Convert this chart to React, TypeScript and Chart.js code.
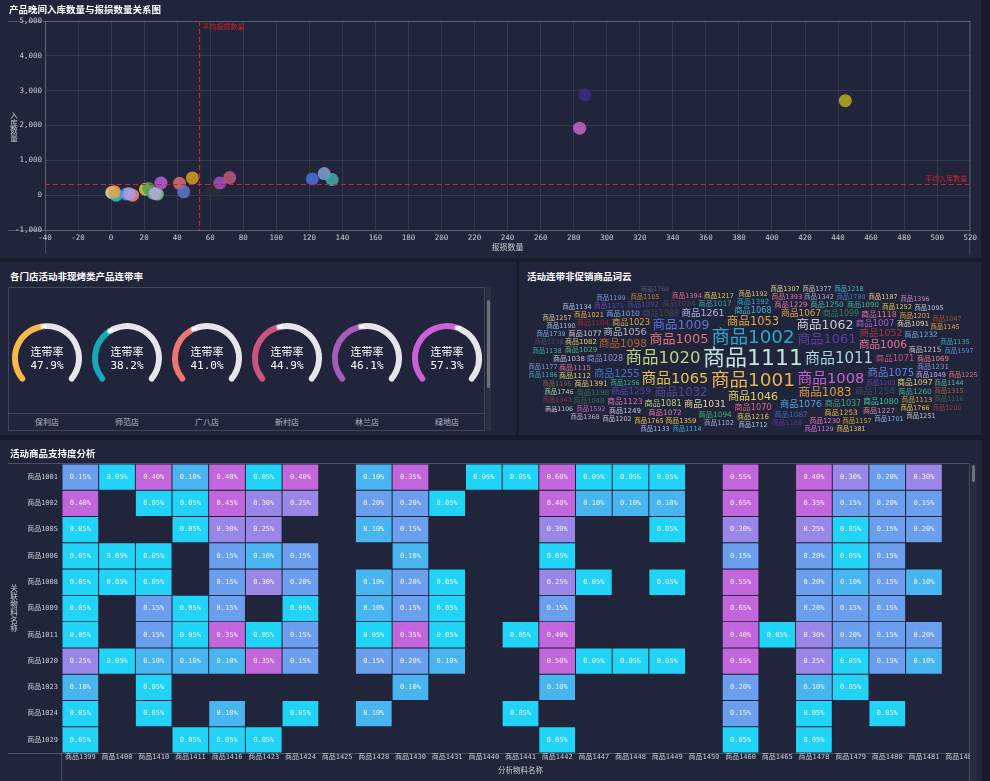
import React, { useEffect, useRef } from 'react';
import { Chart, registerables } from 'chart.js';

Chart.register(...registerables);

const MONO = '"DejaVu Sans Mono", "Noto Sans CJK SC", monospace';
const SANS = '"Noto Sans CJK SC", "Noto Sans", sans-serif';
const WC_FONT = '"DejaVu Sans", "Noto Sans CJK SC", sans-serif';
const PAGE_BG = '#181b2b';
const PANEL_BG = '#21253b';
const TICK = '#c8cad4';
const GRID = 'rgba(255,255,255,0.09)';
const FRAME = 'rgba(255,255,255,0.2)';
const RED = '#d4222b';

// ---------- scatter ----------
const SCATTER_TITLE = '产品晚间入库数量与报损数量关系图';
const SC_X_TITLE = '报损数量';
const SC_Y_TITLE = '入库数量';
const SC_LOSS = [0.4, 3, 2, 9.4, 13, 11, 20.8, 22.8, 25.2, 28, 26.6, 30.2, 41.4, 44, 49.2, 61.8, 65.8, 71.8, 121.8, 129, 133.8, 286.8, 283.6, 444.4];
const SC_STOCK = [77, 0, 100, 30, 0, 40, 170, 190, 60, 30, 50, 350, 340, 95, 495, 130, 350, 505, 466, 620, 448, 2886, 1923, 2714];
const SC_COLORS = [
  'rgba(238,224,170,0.85)', 'rgba(46,199,201,0.85)', 'rgba(229,162,74,0.85)', 'rgba(91,143,249,0.85)',
  'rgba(240,138,122,0.85)', 'rgba(168,159,232,0.85)', 'rgba(232,197,71,0.85)', 'rgba(73,168,76,0.85)',
  'rgba(58,162,122,0.85)', 'rgba(111,207,151,0.85)', 'rgba(185,165,216,0.85)', 'rgba(180,96,216,0.85)',
  'rgba(224,108,108,0.85)', 'rgba(90,120,200,0.85)', 'rgba(212,160,32,0.85)', 'rgba(43,47,58,0.85)',
  'rgba(160,80,192,0.85)', 'rgba(192,88,126,0.85)', 'rgba(74,111,216,0.85)', 'rgba(138,160,208,0.85)',
  'rgba(63,176,173,0.85)', 'rgba(58,45,138,0.85)', 'rgba(200,100,200,0.85)', 'rgba(181,173,30,0.85)',
];
const AVG_LOSS = 53.5;
const AVG_STOCK = 330;
const AVG_LOSS_LABEL = '平均报损数量';
const AVG_STOCK_LABEL = '平均入库数量';

// ---------- gauges ----------
const GAUGE_TITLE = '各门店活动非现烤类产品连带率';
const GAUGE_LABEL = '连带率';
const STORES = ['保利店', '师范店', '广八店', '新村店', '林兰店', '绿地店'];
const RATES = [47.9, 38.2, 41.0, 44.9, 46.1, 57.3];
const GAUGE_COLORS = ['#f6b94a', '#16a9b9', '#ec7670', '#c9547f', '#a65cba', '#cc60d8'];
const TRACK = '#e6e6ea';

// ---------- word cloud ----------
const CLOUD_TITLE = '活动连带非促销商品词云';
const WC_WORDS = [
  '商品1111', '商品1001', '商品1002', '商品1020', '商品1011', '商品1065', '商品1008', '商品1005', '商品1061', '商品1009',
  '商品1062', '商品1032', '商品1083', '商品1053', '商品1046', '商品1006', '商品1098', '商品1075', '商品1255', '商品1052',
  '商品1056', '商品1261', '商品1031', '商品1076', '商品1067', '商品1259', '商品1254', '商品1071', '商品1007', '商品1023',
  '商品1037', '商品1068', '商品1070', '商品1081', '商品1028', '商品1099', '商品1088', '商品1123', '商品1080', '商品1118',
  '商品1097', '商品1229', '商品1391', '商品1010', '商品1017', '商品1029', '商品1094', '商品1087', '商品1250', '商品1072',
  '商品1253', '商品1232', '商品1082', '商品1113', '商品1216', '商品1024', '商品1215', '商品1077', '商品1049', '商品1256',
  '商品1048', '商品1091', '商品1104', '商品1115', '商品1112', '商品1198', '商品1201', '商品1393', '商品1260', '商品1227',
  '商品1069', '商品1231', '商品1092', '商品1392', '商品1359', '商品1230', '商品1021', '商品1090', '商品1249', '商品1038',
  '商品1252', '商品1342', '商品1217', '商品1102', '商品1108', '商品1371', '商品1106', '商品1203', '商品1394', '商品1766',
  '商品1765', '商品1768', '商品1157', '商品1592', '商品1780', '商品1192', '商品1712', '商品1144', '商品1195', '商品1145',
  '商品1105', '商品1190', '商品1746', '商品1135', '商品1202', '商品1701', '商品1315', '商品1136', '商品1739', '商品1138',
  '商品1597', '商品1187', '商品1047', '商品1116', '商品1095', '商品1177', '商品1199', '商品1186', '商品1225', '商品1343',
  '商品1134', '商品1257', '商品1114', '商品1129', '商品1251', '商品1307', '商品1377', '商品1368', '商品1133', '商品1381',
  '商品1396', '商品1200', '商品1218',
];
const WC_SIZES = [
  22, 18.5, 18.3, 16.5, 15, 14.7, 14.7, 13, 13, 12.5,
  12.5, 11.7, 11.7, 11.4, 11, 10.6, 10.6, 10.3, 10, 9.5,
  9.5, 9.5, 9.2, 9.2, 8.8, 8.8, 8.8, 8.5, 8.5, 8.4,
  8, 8.2, 8.2, 8.2, 8, 8, 8, 7.8, 7.8, 7.8,
  7.8, 7.4, 7.4, 7.4, 7.4, 7.2, 7.4, 7.4, 7.4, 7.4,
  7.4, 7.4, 7, 6.8, 7, 7.4, 7.2, 7.4, 6.6, 6.4,
  6.8, 7, 7, 7, 7, 7.2, 6.8, 6.8, 7.4, 7,
  7, 7, 7, 7.2, 6.8, 6.8, 6.6, 7, 7, 7,
  6.6, 6.6, 6.6, 6.6, 6.6, 6.6, 6.2, 6.4, 6.6, 6.4,
  6.4, 6.2, 6.4, 6.4, 6.4, 6.4, 6.4, 6.4, 6.4, 6.4,
  6.4, 6.4, 6.4, 6.4, 6.4, 6.4, 6.4, 6.4, 6.4, 6.4,
  6.4, 6.4, 6.4, 6.4, 6.4, 6.4, 6.4, 6.4, 6.4, 6.4,
  6.4, 6.4, 6.4, 6.4, 6.4, 6.4, 6.4, 6.4, 6.4, 6.4,
  6.4, 6.4, 6.4,
];
const WC_COLORS = [
  '#c3e6dc', '#e8b54c', '#2aa9cf', '#b9d47e', '#a9d6e2', '#e6c452', '#c563d2', '#e2727a', '#5b3ea6', '#5a74e0',
  '#c9cad9', '#54449e', '#d9a343', '#e3ab45', '#e3d264', '#e47592', '#b4632f', '#6384e2', '#4a74c4', '#a83345',
  '#b5b6c6', '#b3b4e2', '#e3d3a1', '#54a2e2', '#d6a444', '#54449e', '#45465a', '#c45486', '#a463c4', '#d5a443',
  '#43a474', '#44b3c4', '#e26484', '#b3d284', '#8494d4', '#33845a', '#45465a', '#d474b4', '#44c494', '#e474a4',
  '#e4d474', '#e474a4', '#e4c464', '#84a4e4', '#44a4a4', '#54b484', '#44b474', '#4464c4', '#44b4a4', '#e474b4',
  '#e4b444', '#74a4e4', '#e4c464', '#d4a444', '#e4c454', '#45465a', '#c4c4c4', '#c4c4d4', '#c4a4e4', '#44b494',
  '#33664f', '#e4d4b4', '#a42434', '#e47494', '#e4d464', '#337454', '#e4a444', '#e47494', '#44b494', '#e48494',
  '#e48484', '#8494d4', '#54449e', '#34a4c4', '#e4c444', '#e474c4', '#e4b444', '#44b494', '#c4c4e4', '#c4c4d4',
  '#e4c444', '#a4a4c4', '#e4c454', '#a4a4d4', '#54349e', '#6444b4', '#c4c4d4', '#6444a4', '#e46494', '#e4c444',
  '#e4c444', '#55566a', '#d4a434', '#c464c4', '#5474c4', '#e4c464', '#a4c4e4', '#64b494', '#846444', '#e4a444',
  '#c48434', '#a4c4e4', '#a4d4a4', '#44a4c4', '#c4c4d4', '#84b4e4', '#a46434', '#45465a', '#84a4d4', '#44a4a4',
  '#6484e4', '#e4c484', '#a45424', '#33664f', '#c4c4d4', '#8494c4', '#8494e4', '#44a4b4', '#e47484', '#943444',
  '#a4c4e4', '#e4c484', '#44a4c4', '#d474d4', '#c4c4c4', '#e4d494', '#c4c4c4', '#b4b4c4', '#a4b4e4', '#e4c454',
  '#c484c4', '#a43444', '#44b4c4',
];

// ---------- heatmap ----------
const HEAT_TITLE = '活动商品支持度分析';
const HM_X_TITLE = '分析物料名称';
const HM_Y_TITLE = '关联物料名称';
const HM_COLS = [
  '商品1399', '商品1408', '商品1410', '商品1411', '商品1416', '商品1423', '商品1424', '商品1425', '商品1428', '商品1430',
  '商品1431', '商品1440', '商品1441', '商品1442', '商品1447', '商品1448', '商品1449', '商品1459', '商品1460', '商品1465',
  '商品1478', '商品1479', '商品1480', '商品1481', '商品1482',
];
const HM_ROWS = ['商品1001', '商品1002', '商品1005', '商品1006', '商品1008', '商品1009', '商品1011', '商品1020', '商品1023', '商品1024', '商品1029'];
const _ = null;
const R1001 = [0.15, 0.05, 0.40, 0.10, 0.40, 0.05, 0.40, _, 0.10, 0.35, _, 0.05, 0.05, 0.60, 0.05, 0.05, 0.05, _, 0.55, _, 0.40, 0.30, 0.20, 0.30, _];
const R1002 = [0.40, _, 0.05, 0.05, 0.45, 0.30, 0.25, _, 0.20, 0.20, 0.05, _, _, 0.40, 0.10, 0.10, 0.10, _, 0.65, _, 0.35, 0.15, 0.20, 0.15, _];
const R1005 = [0.05, _, _, 0.05, 0.30, 0.25, _, _, 0.10, 0.15, _, _, _, 0.30, _, _, 0.05, _, 0.30, _, 0.25, 0.05, 0.15, 0.20, _];
const R1006 = [0.05, 0.05, 0.05, _, 0.15, 0.10, 0.15, _, _, 0.10, _, _, _, 0.05, _, _, _, _, 0.15, _, 0.20, 0.05, 0.15, _, _];
const R1008 = [0.05, 0.05, 0.05, _, 0.15, 0.30, 0.20, _, 0.10, 0.20, 0.05, _, _, 0.25, 0.05, _, 0.05, _, 0.55, _, 0.20, 0.10, 0.15, 0.10, _];
const R1009 = [0.05, _, 0.15, 0.05, 0.15, _, 0.05, _, 0.10, 0.15, 0.05, _, _, 0.15, _, _, _, _, 0.65, _, 0.20, 0.15, 0.15, _, _];
const R1011 = [0.05, _, 0.15, 0.05, 0.35, 0.05, 0.15, _, 0.05, 0.35, 0.05, _, 0.05, 0.40, _, _, _, _, 0.40, 0.05, 0.30, 0.20, 0.15, 0.20, _];
const R1020 = [0.25, 0.05, 0.10, 0.10, 0.10, 0.35, 0.15, _, 0.15, 0.20, 0.10, _, _, 0.50, 0.05, 0.05, 0.05, _, 0.55, _, 0.25, 0.05, 0.15, 0.10, _];
const R1023 = [0.10, _, 0.05, _, _, _, _, _, _, 0.10, _, _, _, 0.10, _, _, _, _, 0.20, _, 0.10, 0.05, _, _, _];
const R1024 = [0.05, _, 0.05, _, 0.10, _, 0.05, _, 0.10, _, _, _, 0.05, _, _, _, _, _, 0.15, _, 0.05, _, 0.05, _, _];
const R1029 = [0.05, _, _, 0.05, 0.05, 0.05, _, _, _, _, _, _, _, 0.05, _, _, _, _, 0.05, _, 0.05, _, _, _, _];
const HM_VALUES: (number | null)[][] = [R1001, R1002, R1005, R1006, R1008, R1009, R1011, R1020, R1023, R1024, R1029];
const HM_STEPS = [0.05, 0.10, 0.20, 0.30, 1];
const HM_PALETTE = ['#22d3f8', '#48b4f0', '#6c9eee', '#9a86e6', '#c266dc'];

function heatColor(v: number | null) {
  if (v == null) return 'rgba(0,0,0,0)';
  for (let k = 0; k < HM_STEPS.length; k++) if (v <= HM_STEPS[k] + 1e-9) return HM_PALETTE[k];
  return HM_PALETTE[HM_PALETTE.length - 1];
}

function stackedText(ctx: any, text: string, x: number, cy: number, size: number, step: number) {
  const chars = Array.from(text);
  const start = cy - ((chars.length - 1) * step) / 2;
  ctx.font = `${size}px ${SANS}`;
  ctx.textAlign = 'center';
  ctx.textBaseline = 'middle';
  ctx.fillStyle = TICK;
  chars.forEach((c, i) => ctx.fillText(c, x, start + i * step));
}

const NO_UI = { legend: { display: false }, tooltip: { enabled: false } };

// ---------- plugins ----------
const scatterDecor = {
  id: 'scatterDecor',
  afterDatasetsDraw(chart: any) {
    const { ctx, chartArea: a, scales } = chart;
    const x = scales.x, y = scales.y;
    ctx.save();
    ctx.strokeStyle = FRAME;
    ctx.lineWidth = 1;
    ctx.beginPath();
    ctx.moveTo(8, a.top + 0.5); ctx.lineTo(a.right, a.top + 0.5);
    ctx.moveTo(8, a.bottom + 0.5); ctx.lineTo(a.right, a.bottom + 0.5);
    ctx.moveTo(a.left + 0.5, a.top); ctx.lineTo(a.left + 0.5, 253);
    ctx.moveTo(a.right - 0.5, a.top); ctx.lineTo(a.right - 0.5, 253);
    ctx.stroke();
    const px = Math.round(x.getPixelForValue(AVG_LOSS)) + 0.5;
    const py = Math.round(y.getPixelForValue(AVG_STOCK)) + 0.5;
    ctx.strokeStyle = RED;
    ctx.lineWidth = 1.2;
    ctx.setLineDash([5, 3]);
    ctx.beginPath();
    ctx.moveTo(px, a.top); ctx.lineTo(px, a.bottom);
    ctx.moveTo(a.left, py); ctx.lineTo(a.right, py);
    ctx.stroke();
    ctx.setLineDash([]);
    ctx.fillStyle = RED;
    ctx.font = `7px ${SANS}`;
    ctx.textBaseline = 'middle';
    ctx.textAlign = 'left';
    ctx.fillText(AVG_LOSS_LABEL, px + 3, a.top + 5);
    ctx.textAlign = 'right';
    ctx.fillText(AVG_STOCK_LABEL, a.right - 3, py - 6);
    stackedText(ctx, SC_Y_TITLE, 14, (a.top + a.bottom) / 2 + 1, 7.5, 7.6);
    ctx.restore();
  },
};

function gaugeDecor(i: number) {
  return {
    id: 'gaugeDecor',
    afterDraw(chart: any) {
      const arc = chart.getDatasetMeta(0).data[0];
      if (!arc) return;
      const { x, y, endAngle, innerRadius, outerRadius } = arc;
      const { ctx } = chart;
      ctx.save();
      const mr = (innerRadius + outerRadius) / 2;
      const dx = x + mr * Math.cos(endAngle);
      const dy = y + mr * Math.sin(endAngle);
      ctx.beginPath(); ctx.arc(dx, dy, 3.3, 0, Math.PI * 2); ctx.fillStyle = 'rgba(255,255,255,0.5)'; ctx.fill();
      ctx.beginPath(); ctx.arc(dx, dy, 2.1, 0, Math.PI * 2); ctx.fillStyle = '#ffffff'; ctx.fill();
      ctx.fillStyle = '#ffffff';
      ctx.textAlign = 'center';
      ctx.textBaseline = 'middle';
      ctx.font = `11px ${SANS}`;
      ctx.fillText(GAUGE_LABEL, x, y - 6.6);
      ctx.font = `11px ${MONO}`;
      ctx.fillText(`${RATES[i].toFixed(1)}%`, x, y + 7.7);
      ctx.restore();
    },
  };
}

const cloudPlugin = {
  id: 'cloud',
  afterDraw(chart: any) {
    const { ctx, chartArea: a } = chart;
    const W = a.right - a.left, H = a.bottom - a.top;
    const cx = a.left + W / 2, cy = a.top + H / 2;
    const asp = W / H;
    const cands: number[][] = [];
    for (let yy = 0; yy <= H; yy += 1) {
      for (let xx = 0; xx <= W; xx += 2) {
        const dx = Math.abs((a.left + xx - cx) / asp);
        const dy = Math.abs(a.top + yy - cy);
        cands.push([a.left + xx, a.top + yy, dx * dx * dx + dy * dy * dy]);
      }
    }
    cands.sort((p, q) => p[2] - q[2]);
    const order = WC_WORDS.map((_w, i) => i).sort((i, j) => WC_SIZES[j] - WC_SIZES[i]);
    const boxes: number[][] = [];
    ctx.save();
    ctx.textAlign = 'center';
    ctx.textBaseline = 'middle';
    for (const i of order) {
      const s = WC_SIZES[i];
      ctx.font = `${s}px ${WC_FONT}`;
      const w = ctx.measureText(WC_WORDS[i]).width + 1.5;
      const h = s + 0.8;
      let hit = -1;
      for (let c = 0; c < cands.length; c++) {
        const px = cands[c][0], py = cands[c][1];
        const x0 = px - w / 2, y0 = py - h / 2, x1 = px + w / 2, y1 = py + h / 2;
        if (x0 < a.left || x1 > a.right || y0 < a.top || y1 > a.bottom) continue;
        if (hit >= 0) {
          const b = boxes[hit];
          if (x0 < b[2] && x1 > b[0] && y0 < b[3] && y1 > b[1]) continue;
        }
        let ok = true;
        for (let k = 0; k < boxes.length; k++) {
          const b = boxes[k];
          if (x0 < b[2] && x1 > b[0] && y0 < b[3] && y1 > b[1]) { ok = false; hit = k; break; }
        }
        if (!ok) continue;
        boxes.push([x0, y0, x1, y1]);
        ctx.fillStyle = WC_COLORS[i];
        ctx.fillText(WC_WORDS[i], px, py);
        break;
      }
    }
    ctx.restore();
  },
};

const heatDecor = {
  id: 'heatDecor',
  afterDatasetsDraw(chart: any) {
    const { ctx, chartArea: a } = chart;
    ctx.save();
    ctx.font = `7px ${MONO}`;
    ctx.textAlign = 'center';
    ctx.textBaseline = 'middle';
    ctx.fillStyle = 'rgba(255,255,255,0.88)';
    HM_VALUES.forEach((row, r) => {
      const meta = chart.getDatasetMeta(r);
      row.forEach((v, c) => {
        if (v == null) return;
        const el = meta.data[c];
        if (!el) return;
        ctx.fillText(`${v.toFixed(2)}%`, el.x, (el.y + el.base) / 2);
      });
    });
    ctx.strokeStyle = FRAME;
    ctx.lineWidth = 1;
    ctx.beginPath();
    ctx.moveTo(8, a.top - 0.5); ctx.lineTo(970, a.top - 0.5);
    ctx.moveTo(8, a.bottom + 0.5); ctx.lineTo(970, a.bottom + 0.5);
    ctx.moveTo(a.left - 0.5, a.bottom); ctx.lineTo(a.left - 0.5, chart.height);
    ctx.moveTo(969.5, a.top); ctx.lineTo(969.5, chart.height);
    ctx.stroke();
    stackedText(ctx, HM_Y_TITLE, 14, (a.top + a.bottom) / 2, 7.5, 8);
    ctx.restore();
  },
};

// ---------- configs ----------
function scatterConfig() {
  return {
    type: 'scatter',
    data: {
      datasets: [{
        data: SC_LOSS.map((x, i) => ({ x, y: SC_STOCK[i] })),
        backgroundColor: SC_COLORS,
        borderWidth: 0,
        pointRadius: 6.5,
        pointHoverRadius: 6.5,
      }],
    },
    options: {
      responsive: true, maintainAspectRatio: false, animation: false, events: [],
      layout: { padding: { left: 0, top: 21, right: 4, bottom: 0 } },
      plugins: NO_UI,
      scales: {
        x: {
          type: 'linear', min: -40, max: 520,
          afterFit: (s: any) => { s.height = 28; },
          ticks: { stepSize: 20, color: TICK, font: { family: MONO, size: 7.5 }, padding: 4, maxRotation: 0, autoSkip: false },
          grid: { color: GRID, drawTicks: false },
          border: { display: false },
          title: { display: true, text: SC_X_TITLE, color: TICK, font: { family: SANS, size: 8 }, padding: { top: 0, bottom: 6 } },
        },
        y: {
          type: 'linear', min: -1000, max: 5000,
          afterFit: (s: any) => { s.width = 45; },
          ticks: { stepSize: 1000, color: TICK, font: { family: MONO, size: 7.5 }, padding: 3, callback: (v: any) => Number(v).toLocaleString('en-US') },
          grid: { color: GRID, drawTicks: false },
          border: { display: false },
        },
      },
    },
    plugins: [scatterDecor],
  };
}

function gaugeConfig(i: number) {
  return {
    type: 'doughnut',
    data: {
      datasets: [{
        data: [RATES[i], 100 - RATES[i]],
        backgroundColor: [GAUGE_COLORS[i], TRACK],
        borderWidth: 0,
        borderRadius: 3,
      }],
    },
    options: {
      responsive: true, maintainAspectRatio: false, animation: false, events: [],
      rotation: -135, circumference: 270, cutout: '83%',
      layout: { padding: 5 },
      plugins: NO_UI,
    },
    plugins: [gaugeDecor(i)],
  };
}

function cloudConfig() {
  return {
    type: 'scatter',
    data: { datasets: [] },
    options: {
      responsive: true, maintainAspectRatio: false, animation: false, events: [],
      layout: { padding: 0 },
      plugins: NO_UI,
      scales: { x: { display: false }, y: { display: false } },
    },
    plugins: [cloudPlugin],
  };
}

function heatConfig() {
  return {
    type: 'bar',
    data: {
      labels: HM_COLS,
      datasets: HM_ROWS.map((name, r) => ({
        label: name,
        data: HM_VALUES[r].map((v) => (v == null ? null : [r - 0.5, r + 0.5])),
        backgroundColor: HM_VALUES[r].map((v) => heatColor(v)),
        borderColor: 'rgba(24,32,56,0.75)',
        borderWidth: 0.8,
        borderSkipped: false,
        grouped: false,
        categoryPercentage: 1,
        barPercentage: 1,
      })),
    },
    options: {
      responsive: true, maintainAspectRatio: false, animation: false, events: [],
      layout: { padding: { left: 0, top: 24, right: 11, bottom: 0 } },
      plugins: NO_UI,
      scales: {
        x: {
          type: 'category',
          afterFit: (s: any) => { s.height = 28; },
          grid: { display: false, drawTicks: false },
          border: { display: false },
          ticks: { color: TICK, font: { family: MONO, size: 7 }, padding: 0, maxRotation: 0, minRotation: 0, autoSkip: false },
          title: { display: true, text: HM_X_TITLE, color: TICK, font: { family: SANS, size: 7.5 }, padding: { top: 0, bottom: 6 } },
        },
        y: {
          type: 'linear', min: -0.5, max: HM_ROWS.length - 0.5, reverse: true,
          afterFit: (s: any) => { s.width = 62; },
          afterBuildTicks: (s: any) => { s.ticks = HM_ROWS.map((_r, i) => ({ value: i })); },
          grid: { display: false, drawTicks: false },
          border: { display: false },
          ticks: { color: TICK, font: { family: MONO, size: 7 }, padding: 4, autoSkip: false, callback: (v: any) => HM_ROWS[v] ?? '' },
        },
      },
    },
    plugins: [heatDecor],
  };
}

// ---------- components ----------
function ChartBox({ config, style }: { config: () => any; style: React.CSSProperties }) {
  const ref = useRef<HTMLCanvasElement | null>(null);
  useEffect(() => {
    if (!ref.current) return;
    const chart = new Chart(ref.current, config());
    return () => chart.destroy();
  }, []);
  return (
    <div style={{ position: 'absolute', ...style }}>
      <canvas ref={ref} />
    </div>
  );
}

function Panel(props: { left: number; top: number; width: number; height: number; title: string; titleLeft?: number; titleTop?: number; children?: any }) {
  const { left, top, width, height, title, titleLeft = 10, titleTop = 3, children } = props;
  return (
    <div style={{ position: 'absolute', left, top, width, height, background: PANEL_BG, overflow: 'hidden' }}>
      {children}
      <div style={{ position: 'absolute', left: titleLeft, top: titleTop, fontSize: 9.5, fontWeight: 700, color: '#ffffff', fontFamily: SANS, lineHeight: '12px', whiteSpace: 'nowrap' }}>{title}</div>
    </div>
  );
}

export default function App() {
  useEffect(() => {
    document.body.style.margin = '0';
    document.body.style.background = PAGE_BG;
  }, []);
  const gaugeCx = (i: number) => 47 + i * 80;
  return (
    <div style={{ position: 'fixed', left: 0, top: 0, width: 990, height: 781, background: PAGE_BG, overflow: 'hidden', fontFamily: SANS }}>
      <Panel left={0} top={0} width={981} height={258} title={SCATTER_TITLE} titleLeft={9} titleTop={3}>
        <ChartBox config={scatterConfig} style={{ left: 0, top: 0, width: 981, height: 258 }} />
      </Panel>

      <Panel left={0} top={262} width={516} height={173} title={GAUGE_TITLE} titleLeft={10} titleTop={7.5}>
        <div style={{ position: 'absolute', left: 8, top: 25, width: 477, height: 144, border: '1px solid rgba(255,255,255,0.15)', boxSizing: 'border-box' }} />
        <div style={{ position: 'absolute', left: 8, top: 151, width: 477, height: 1, background: 'rgba(255,255,255,0.15)' }} />
        <div style={{ position: 'absolute', left: 486, top: 25, width: 5, height: 144, background: 'rgba(255,255,255,0.05)' }} />
        <div style={{ position: 'absolute', left: 487, top: 38, width: 3, height: 88, borderRadius: 2, background: 'rgba(255,255,255,0.32)' }} />
        {STORES.map((s, i) => (
          <ChartBox key={'g' + i} config={() => gaugeConfig(i)} style={{ left: gaugeCx(i) - 40, top: 51, width: 80, height: 80 }} />
        ))}
        {STORES.map((s, i) => (
          <div key={'l' + i} style={{ position: 'absolute', left: gaugeCx(i) - 40, top: 155, width: 80, textAlign: 'center', fontSize: 8, lineHeight: '10px', color: '#b4b6c2', fontFamily: SANS }}>{s}</div>
        ))}
      </Panel>

      <Panel left={519} top={262} width={462} height={173} title={CLOUD_TITLE} titleLeft={8} titleTop={7.5}>
        <ChartBox config={cloudConfig} style={{ left: 8, top: 23, width: 452, height: 149 }} />
      </Panel>

      <Panel left={0} top={440} width={982} height={341} title={HEAT_TITLE} titleLeft={10} titleTop={7}>
        <div style={{ position: 'absolute', left: 0, top: 0, width: 970, height: 341, overflow: 'hidden' }}>
          <ChartBox config={heatConfig} style={{ left: 0, top: 0, width: 990, height: 341 }} />
        </div>
        <div style={{ position: 'absolute', left: 971, top: 24, width: 5, height: 317, background: 'rgba(255,255,255,0.04)' }} />
        <div style={{ position: 'absolute', left: 972, top: 25, width: 3, height: 17, borderRadius: 2, background: 'rgba(255,255,255,0.32)' }} />
      </Panel>
    </div>
  );
}
